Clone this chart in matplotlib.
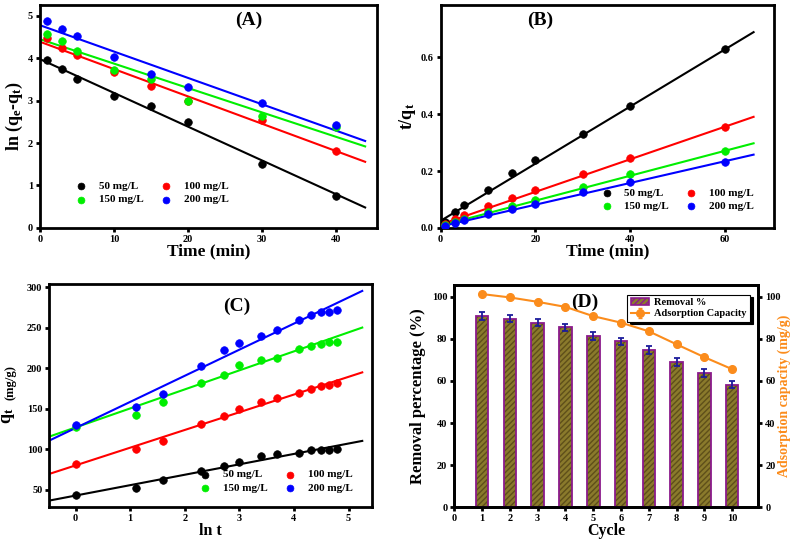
"""Adsorption kinetics and reusability: 4-panel figure (A-D)."""

import matplotlib
matplotlib.use("Agg")
import matplotlib.pyplot as plt
from matplotlib.patches import Patch
import numpy as np

plt.rcParams["font.family"] = ["Liberation Serif", "DejaVu Serif"]
plt.rcParams["font.weight"] = "bold"
plt.rcParams["mathtext.fontset"] = "custom"
plt.rcParams["mathtext.rm"] = "Liberation Serif:bold"
plt.rcParams["mathtext.it"] = "Liberation Serif:bold"
plt.rcParams["mathtext.default"] = "rm"

# ---- data ----
conc_labels = ["50 mg/L", "100 mg/L", "150 mg/L", "200 mg/L"]
series_colors = ["black", "red", "#00ee00", "blue"]

# (A) pseudo-first order
time_a = [1, 3, 5, 10, 15, 20, 30, 40]
ln_qe_qt_50 = [3.95, 3.75, 3.52, 3.10, 2.87, 2.50, 1.50, 0.75]
ln_qe_qt_100 = [4.47, 4.25, 4.08, 3.67, 3.35, 3.00, 2.55, 1.82]
ln_qe_qt_150 = [4.57, 4.40, 4.17, 3.72, 3.50, 3.00, 2.65, 2.38]
ln_qe_qt_200 = [4.87, 4.68, 4.52, 4.03, 3.62, 3.32, 2.95, 2.42]
fit_a_intercept = [3.98, 4.39, 4.45, 4.78]
fit_a_slope = [-0.0797, -0.0645, -0.0576, -0.0622]

# (B) pseudo-second order
time_b = [1, 3, 5, 10, 15, 20, 30, 40, 60]
t_qt_50 = [0.020, 0.057, 0.080, 0.135, 0.192, 0.240, 0.330, 0.428, 0.628]
t_qt_100 = [0.015, 0.030, 0.045, 0.077, 0.105, 0.133, 0.190, 0.245, 0.355]
t_qt_150 = [0.010, 0.020, 0.030, 0.055, 0.077, 0.098, 0.143, 0.188, 0.270]
t_qt_200 = [0.008, 0.018, 0.027, 0.048, 0.066, 0.085, 0.125, 0.160, 0.233]
fit_b_intercept = [0.025, 0.012, 0.008, 0.005]
fit_b_slope = [0.01006, 0.00574, 0.00439, 0.00383]

# (C) intraparticle / Elovich
ln_t = [0.0, 1.10, 1.61, 2.30, 2.71, 3.00, 3.40, 3.69, 4.09, 4.32, 4.50, 4.65, 4.79]
qt_50 = [44, 53, 62, 74, 79, 84, 92, 94, 96, 99, 99, 99, 100]
qt_100 = [82, 101, 110, 131, 141, 150, 158, 164, 170, 175, 178, 180, 182]
qt_150 = [128, 142, 159, 182, 192, 204, 210, 213, 224, 228, 230, 232, 233]
qt_200 = [130, 152, 168, 203, 222, 231, 240, 247, 259, 266, 269, 270, 272]
fit_c_intercept = [43.1, 80.3, 127.1, 126.4]
fit_c_slope = [12.84, 21.85, 23.46, 32.2]

# (D) reusability
cycles = [1, 2, 3, 4, 5, 6, 7, 8, 9, 10]
removal_pct = [90.8, 89.6, 87.7, 85.5, 81.5, 78.8, 74.7, 69.1, 63.7, 58.3]
removal_err = [1.8, 1.8, 1.8, 1.8, 1.8, 1.8, 1.8, 1.8, 1.8, 1.8]
capacity = [101.3, 99.7, 97.6, 95.2, 90.8, 87.7, 83.6, 77.4, 71.3, 65.6]
capacity_err = [1.2, 1.2, 1.2, 1.2, 1.2, 1.2, 1.2, 1.2, 1.2, 1.2]

SPINE_W = 2.0
TICK_FS = 7.5
BAR_FACE = "#8a7a2c"
BAR_EDGE = "#8b1a8b"
ORANGE = "#fb8c1c"


def style_axes(ax):
    for sp in ax.spines.values():
        sp.set_linewidth(SPINE_W)
    ax.tick_params(direction="out", length=3, width=2, labelsize=TICK_FS,
                   top=False, right=False, pad=2)
    for lab in ax.get_xticklabels() + ax.get_yticklabels():
        lab.set_fontweight("bold")


def scatter_fit(ax, x, ys, intercepts, slopes, xfit):
    handles = []
    xf = np.array(xfit)
    for y, b, m, c, lab in zip(ys, intercepts, slopes, series_colors, conc_labels):
        ax.plot(xf, b + m * xf, color=c, lw=1.5, zorder=2)
        h = ax.scatter(x, y, s=30, color=c, edgecolors=c, linewidths=0.5, zorder=3, label=lab)
        handles.append(h)
    return handles


def add_legend(ax, handles, loc, anchor):
    order = [handles[0], handles[2], handles[1], handles[3]]
    labels = [conc_labels[0], conc_labels[2], conc_labels[1], conc_labels[3]]
    ax.legend(order, labels, ncol=2, loc=loc, bbox_to_anchor=anchor, frameon=False,
              handletextpad=0.6, columnspacing=1.0, labelspacing=0.3,
              scatterpoints=1, markerscale=0.9, prop={"weight": "bold", "size": 8})


fig = plt.figure(figsize=(7.93, 5.40), dpi=100)

# ---- (A) ----
ax_a = fig.add_axes([0.0504, 0.578, 0.425, 0.413])
h = scatter_fit(ax_a, time_a, [ln_qe_qt_50, ln_qe_qt_100, ln_qe_qt_150, ln_qe_qt_200],
                fit_a_intercept, fit_a_slope, [0, 43.9])
ax_a.set_xlim(0, 45.5)
ax_a.set_ylim(0, 5.26)
ax_a.set_xticks([0, 10, 20, 30, 40])
ax_a.set_yticks([0, 1, 2, 3, 4, 5])
ax_a.set_xlabel("Time (min)", fontsize=12.5, fontweight="bold", labelpad=0)
ax_a.set_ylabel(r"ln (q$_e$-q$_t$)", fontsize=13, fontweight="bold", labelpad=2)
ax_a.text(0.62, 0.93, "(A)", transform=ax_a.transAxes, ha="center", va="center",
          fontsize=14, fontweight="bold")
style_axes(ax_a)
add_legend(ax_a, h, "lower left", (0.06, 0.06))

# ---- (B) ----
ax_b = fig.add_axes([0.5557, 0.578, 0.4203, 0.413])
h = scatter_fit(ax_b, time_b, [t_qt_50, t_qt_100, t_qt_150, t_qt_200],
                fit_b_intercept, fit_b_slope, [0, 66])
ax_b.set_xlim(0, 70.3)
ax_b.set_ylim(0, 0.785)
ax_b.set_xticks([0, 20, 40, 60])
ax_b.set_yticks([0.0, 0.2, 0.4, 0.6])
ax_b.set_yticklabels(["0.0", "0.2", "0.4", "0.6"])
ax_b.set_xlabel("Time (min)", fontsize=12.5, fontweight="bold", labelpad=0)
ax_b.set_ylabel(r"t/q$_t$", fontsize=13, fontweight="bold", labelpad=2)
ax_b.text(0.30, 0.93, "(B)", transform=ax_b.transAxes, ha="center", va="center",
          fontsize=14, fontweight="bold")
style_axes(ax_b)
add_legend(ax_b, h, "lower right", (0.97, 0.03))

# ---- (C) ----
ax_c = fig.add_axes([0.0622, 0.0611, 0.407, 0.413])
h = scatter_fit(ax_c, ln_t, [qt_50, qt_100, qt_150, qt_200],
                fit_c_intercept, fit_c_slope, [-0.48, 5.25])
ax_c.set_xlim(-0.48, 5.43)
ax_c.set_ylim(29, 304)
ax_c.set_xticks([0, 1, 2, 3, 4, 5])
ax_c.set_yticks([50, 100, 150, 200, 250, 300])
ax_c.set_xlabel("ln t", fontsize=11.5, fontweight="bold", labelpad=0)
ax_c.text(-0.125, 0.41, r"q$_t$", transform=ax_c.transAxes, rotation=90,
          ha="center", va="center", fontsize=13, fontweight="bold")
ax_c.text(-0.12, 0.56, "(mg/g)", transform=ax_c.transAxes, rotation=90,
          ha="center", va="center", fontsize=9, fontweight="bold")
ax_c.text(0.58, 0.90, "(C)", transform=ax_c.transAxes, ha="center", va="center",
          fontsize=14, fontweight="bold")
style_axes(ax_c)
add_legend(ax_c, h, "lower right", (0.97, 0.02))

# ---- (D) ----
ax_d = fig.add_axes([0.5729, 0.0606, 0.3834, 0.4116])
ax_d.bar(cycles, removal_pct, width=0.45, color=BAR_FACE, edgecolor="#5e4f1a",
         hatch="//////", linewidth=0, zorder=2)
ax_d.bar(cycles, removal_pct, width=0.45, color="none", edgecolor=BAR_EDGE,
         linewidth=1.3, zorder=3)
ax_d.errorbar(cycles, removal_pct, yerr=removal_err, fmt="none", ecolor="#1c1c9c",
              elinewidth=1.3, capsize=2.2, capthick=1.3, zorder=4)
ax_d.set_xlim(0, 10.94)
ax_d.set_ylim(0, 105.6)
ax_d.set_xticks(range(0, 11))
ax_d.set_yticks([0, 20, 40, 60, 80, 100])
ax_d.set_xlabel("Cycle", fontsize=11.5, fontweight="bold", labelpad=0)
ax_d.set_ylabel("Removal percentage (%)", fontsize=12, fontweight="bold", labelpad=4)
ax_d.text(0.43, 0.92, "(D)", transform=ax_d.transAxes, ha="center", va="center",
          fontsize=14, fontweight="bold")
style_axes(ax_d)

ax_d2 = ax_d.twinx()
cap_line = ax_d2.errorbar(cycles, capacity, yerr=capacity_err, color=ORANGE, marker="o",
                          markersize=5.5, lw=1.5, elinewidth=1.0, capsize=1.5, zorder=5)
ax_d2.set_ylim(0, 105.6)
ax_d2.set_yticks([0, 20, 40, 60, 80, 100])
ax_d2.set_ylabel("Adsorption capacity (mg/g)", fontsize=10, fontweight="bold",
                 color=ORANGE)
ax_d2.yaxis.set_label_coords(1.062, 0.5)
for sp in ax_d2.spines.values():
    sp.set_linewidth(SPINE_W)
ax_d2.tick_params(direction="out", length=3, width=2, labelsize=TICK_FS, pad=2)
for lab in ax_d2.get_yticklabels():
    lab.set_fontweight("bold")

bar_handle = Patch(facecolor=BAR_FACE, edgecolor=BAR_EDGE, hatch="//////", linewidth=1.2)
leg = ax_d2.legend([bar_handle, cap_line], ["Removal %", "Adsorption Capacity"],
                   loc="upper right", bbox_to_anchor=(0.99, 0.98),
                   fancybox=False, edgecolor="black", framealpha=1,
                   shadow={"color": "black", "alpha": 1, "ox": 2, "oy": -2},
                   prop={"weight": "bold", "size": 7.5}, handlelength=1.8,
                   borderpad=0.3, labelspacing=0.2, handletextpad=0.5)
leg.get_frame().set_linewidth(0.8)

fig.savefig("out.png", dpi=100)
